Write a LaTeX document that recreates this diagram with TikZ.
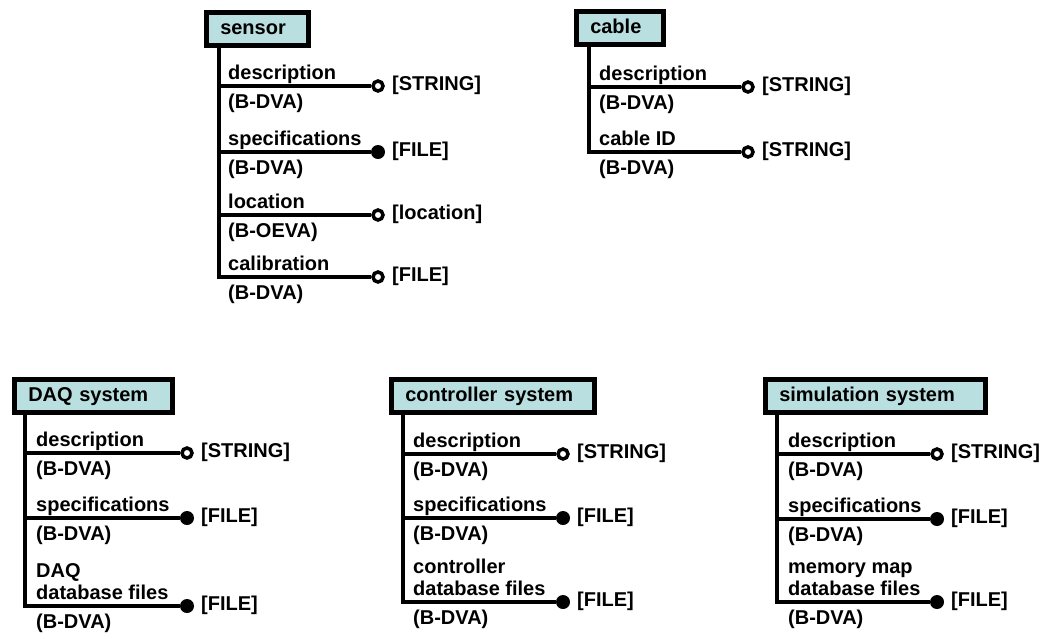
\documentclass[tikz,border=0pt]{standalone}
\usepackage{fontspec}
\setmainfont{Liberation Sans}
\definecolor{boxfill}{RGB}{186,223,224}
\newcommand{\lbl}{\fontsize{20pt}{22pt}\selectfont\bfseries}
\newcommand{\attrow}[9]{%
  \coordinate (#1j) at (#2,#3);
  \node[#8] (#1c) at (#4,#3) {};
  \node[attr] (#1a) at (#5,#3-6.5) {#6};
  \node[role] (#1r) at (#5,#3+22) {#7};
  \node[type] (#1t) at (#4+14,#3+4) {#9};
}
\tikzset{
  entity/.style={draw, line width=4.5pt, fill=boxfill, inner xsep=14pt, inner ysep=0pt,
    minimum height=33pt, align=left, anchor=north west, text height=15pt, text depth=3pt, font=\lbl},
  conn/.style={line width=4.5pt},
  openmark/.style={circle, draw, line width=3.5pt, fill=white, minimum size=10pt, inner sep=0pt},
  fullmark/.style={circle, fill=black, minimum size=14pt, inner sep=0pt},
  attr/.style={anchor=south west, inner sep=0pt, text depth=0pt, align=left, font=\lbl},
  role/.style={anchor=base west, inner sep=0pt, font=\lbl},
  type/.style={anchor=base west, inner sep=0pt, font=\lbl}
}
\begin{document}
\begin{tikzpicture}[x=1pt,y=-1pt]
\useasboundingbox (0,0) rectangle (1053,638);

% sensor
\node[entity, text width=74pt] (sensor) at (204,10) {sensor};
\attrow{s1}{219}{86}{378}{228}{description}{(B-DVA)}{openmark}{[STRING]}
\attrow{s2}{219}{152}{378}{228}{specifications}{(B-DVA)}{fullmark}{[FILE]}
\attrow{s3}{219}{215}{378}{228}{location}{(B-OEVA)}{openmark}{[location]}
\attrow{s4}{219}{277}{378}{228}{calibration}{(B-DVA)}{openmark}{[FILE]}
\draw[conn] (sensor.south -| s4j) -- (s4j) -- (s4c);
\draw[conn] (s1j) -- (s1c);
\draw[conn] (s2j) -- (s2c);
\draw[conn] (s3j) -- (s3c);

% cable
\node[entity, text width=59pt] (cable) at (574,9) {cable};
\attrow{c1}{589}{87}{748}{599}{description}{(B-DVA)}{openmark}{[STRING]}
\attrow{c2}{589}{152}{748}{599}{cable ID}{(B-DVA)}{openmark}{[STRING]}
\draw[conn] (cable.south -| c2j) -- (c2j) -- (c2c);
\draw[conn] (c1j) -- (c1c);

% DAQ system
\node[entity, text width=130pt] (daq) at (12,377) {DAQ system};
\attrow{d1}{25}{453}{187}{36}{description}{(B-DVA)}{openmark}{[STRING]}
\attrow{d2}{25}{518}{187}{36}{specifications}{(B-DVA)}{fullmark}{[FILE]}
\attrow{d3}{25}{606}{187}{36}{DAQ\\database files}{(B-DVA)}{fullmark}{[FILE]}
\draw[conn] (daq.south -| d3j) -- (d3j) -- (d3c);
\draw[conn] (d1j) -- (d1c);
\draw[conn] (d2j) -- (d2c);

% controller system
\node[entity, text width=175pt] (ctrl) at (389,377) {controller system};
\attrow{k1}{403}{454}{563}{413}{description}{(B-DVA)}{openmark}{[STRING]}
\attrow{k2}{403}{518}{563}{413}{specifications}{(B-DVA)}{fullmark}{[FILE]}
\attrow{k3}{403}{602}{563}{413}{controller\\database files}{(B-DVA)}{fullmark}{[FILE]}
\draw[conn] (ctrl.south -| k3j) -- (k3j) -- (k3c);
\draw[conn] (k1j) -- (k1c);
\draw[conn] (k2j) -- (k2c);

% simulation system
\node[entity, text width=192pt] (sim) at (763,377) {simulation system};
\attrow{m1}{777}{454}{937}{788}{description}{(B-DVA)}{openmark}{[STRING]}
\attrow{m2}{777}{519}{937}{788}{specifications}{(B-DVA)}{fullmark}{[FILE]}
\attrow{m3}{777}{602}{937}{788}{memory map\\database files}{(B-DVA)}{fullmark}{[FILE]}
\draw[conn] (sim.south -| m3j) -- (m3j) -- (m3c);
\draw[conn] (m1j) -- (m1c);
\draw[conn] (m2j) -- (m2c);
\end{tikzpicture}
\end{document}
